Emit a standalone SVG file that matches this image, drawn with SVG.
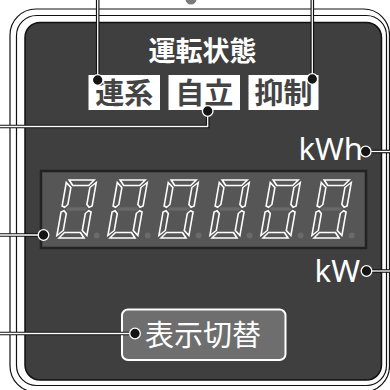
<svg xmlns="http://www.w3.org/2000/svg" width="390" height="390" viewBox="0 0 390 390">
  <defs>
    <style>
      .frame { fill: none; stroke: #111; stroke-width: 1.2; }
      .cjk { font-family: "Noto Sans CJK JP", "Noto Sans", sans-serif; font-weight: 700; }
      .cjk-reg { font-family: "Noto Sans CJK JP", "Noto Sans", sans-serif; font-weight: 400; }
      .lat { font-family: "Noto Sans", "Liberation Sans", sans-serif; fill: #fff; }
      .lbl { fill: #fff; }
      .lbltxt { fill: #444; font-size: 29px; text-anchor: middle; }
      .seg { fill: #565656; stroke: #fff; stroke-width: 1.6; stroke-linejoin: miter; }
      .off { fill: #686868; }
      .dp { fill: #6a6a6a; }
      .ln-o { fill: none; stroke: #111; stroke-width: 3.6; }
      .ln-i { fill: none; stroke: #fff; stroke-width: 1.3; }
      .pin { fill: #151515; stroke: #fff; stroke-width: 1.3; }
    </style>
    <g id="digit">
      <polygon class="seg" points="2.5,0 27.5,0 23,5.5 7,5.5"/>
      <polygon class="seg" points="0,2.5 5.5,7.5 5.5,24.5 2.75,27.25 0,26"/>
      <polygon class="seg" points="30,2.5 30,26 27.25,27.25 24.5,24.5 24.5,7.5"/>
      <polygon class="off" points="4,29 6,27.3 24,27.3 26,29 24,30.7 6,30.7"/>
      <polygon class="seg" points="0,32 2.75,30.75 5.5,33.5 5.5,50.5 0,55.5"/>
      <polygon class="seg" points="30,32 30,55.5 24.5,50.5 24.5,33.5 27.25,30.75"/>
      <polygon class="seg" points="2.5,58 7,52.5 23,52.5 27.5,58"/>
    </g>
  </defs>

  <rect width="390" height="390" fill="#fff"/>

  <g id="housing">
    <circle cx="191" cy="-1" r="5.5" fill="#7a7a7a"/>
    <rect class="frame" x="10" y="9" width="379.5" height="383" rx="26"/>
    <rect class="frame" x="16.5" y="15.5" width="370" height="370" rx="20"/>
    <rect x="25" y="22.5" width="356.5" height="357.5" rx="15" fill="#3f3f3f" stroke="#111" stroke-width="1.5"/>
  </g>

  <g id="status-title">
    <text class="cjk" x="202.5" y="61" font-size="27" fill="#fff" text-anchor="middle">運転状態</text>
  </g>

  <g id="lamp-grid">
    <rect class="lbl" x="88.5" y="75" width="71.5" height="35"/>
    <text class="cjk lbltxt" x="124.2" y="103.5">連系</text>
  </g>
  <g id="lamp-standalone">
    <rect class="lbl" x="168.5" y="75" width="71.5" height="35"/>
    <text class="cjk lbltxt" x="204.2" y="103.5">自立</text>
  </g>
  <g id="lamp-suppress">
    <rect class="lbl" x="248.5" y="75" width="70" height="35"/>
    <text class="cjk lbltxt" x="283.5" y="103.5">抑制</text>
  </g>

  <g id="unit-kwh">
    <text class="lat" x="363" y="160" font-size="31" text-anchor="end">kWh</text>
  </g>
  <g id="unit-kw">
    <text class="lat" x="360" y="282" font-size="31" text-anchor="end">kW</text>
  </g>

  <g id="display">
    <rect x="41" y="171" width="325" height="77" fill="#565656" stroke="#222" stroke-width="2.5"/>
    <use href="#digit" transform="translate(66.7,180) skewX(-10)"/>
    <use href="#digit" transform="translate(117.7,180) skewX(-10)"/>
    <use href="#digit" transform="translate(168.7,180) skewX(-10)"/>
    <use href="#digit" transform="translate(219.7,180) skewX(-10)"/>
    <use href="#digit" transform="translate(270.7,180) skewX(-10)"/>
    <use href="#digit" transform="translate(321.7,180) skewX(-10)"/>
    <circle class="dp" cx="96.7" cy="235.5" r="3"/>
    <circle class="dp" cx="147.7" cy="235.5" r="3"/>
    <circle class="dp" cx="198.7" cy="235.5" r="3"/>
    <circle class="dp" cx="249.7" cy="235.5" r="3"/>
    <circle class="dp" cx="300.7" cy="235.5" r="3"/>
    <circle class="dp" cx="351.7" cy="235.5" r="3"/>
  </g>

  <g id="switch-button">
    <rect x="122" y="309.5" width="163.5" height="50.5" rx="6" fill="#6e6e6e" stroke="#fff" stroke-width="2"/>
    <text class="cjk-reg" x="145" y="346" font-size="29" fill="#fff">表示切替</text>
  </g>

  <g id="connectors">
    <path class="ln-o" d="M97.7,-2 V80"/>
    <path class="ln-i" d="M97.7,-2 V80"/>
    <path class="ln-o" d="M312.3,-2 V79"/>
    <path class="ln-i" d="M312.3,-2 V79"/>
    <path class="ln-o" d="M207.7,111 V126.5 H-2"/>
    <path class="ln-i" d="M207.7,111 V126.5 H-2"/>
    <path class="ln-o" d="M-2,235 H43.5"/>
    <path class="ln-i" d="M-2,235 H43.5"/>
    <path class="ln-o" d="M365.7,151.5 H392"/>
    <path class="ln-i" d="M365.7,151.5 H392"/>
    <path class="ln-o" d="M366.5,271 H392"/>
    <path class="ln-i" d="M366.5,271 H392"/>
    <path class="ln-o" d="M-2,333.5 H135"/>
    <path class="ln-i" d="M-2,333.5 H135"/>
    <circle class="pin" cx="97.7" cy="80" r="5.3"/>
    <circle class="pin" cx="312.3" cy="79" r="5.3"/>
    <circle class="pin" cx="207.7" cy="111" r="5.3"/>
    <circle class="pin" cx="43.5" cy="235" r="5.3"/>
    <circle class="pin" cx="365.7" cy="151.5" r="5.3"/>
    <circle class="pin" cx="366.5" cy="271" r="5.3"/>
    <circle class="pin" cx="135" cy="333.5" r="5.3"/>
  </g>
</svg>
